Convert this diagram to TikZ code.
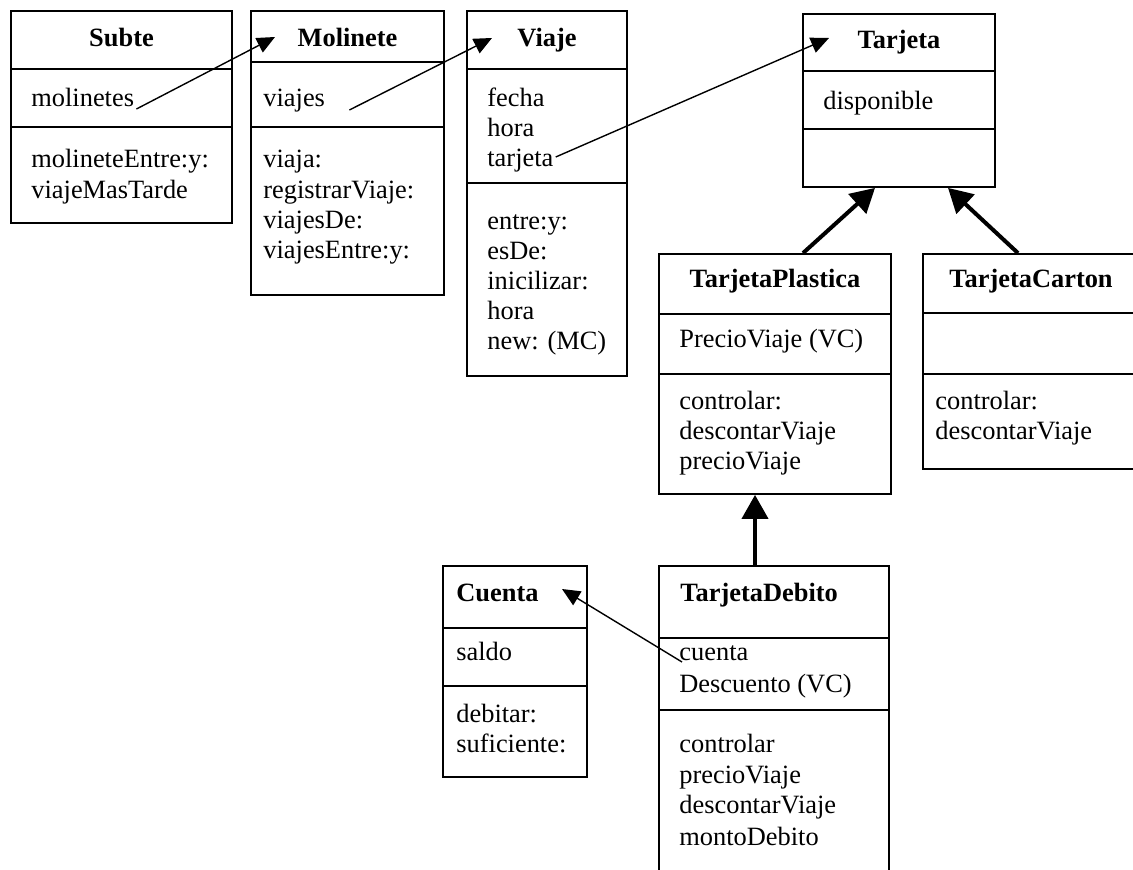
\documentclass[tikz,border=0pt]{standalone}
\usepackage{fontspec}
\setmainfont{Liberation Serif}
\usetikzlibrary{arrows.meta,fit}
\begin{document}
\begin{tikzpicture}[x=0.5pt,y=-0.5pt,
  box/.style={draw, line width=0.9pt, inner sep=0pt},
  sep/.style={line width=0.9pt},
  txt/.style={anchor=base west, inner sep=0pt, font=\fontsize{13.2}{15}\selectfont},
  hdr/.style={anchor=base, inner sep=0pt, font=\fontsize{13.2}{15}\selectfont\bfseries},
  hdrl/.style={hdr, anchor=base west},
  assoc/.style={line width=0.7pt, -{Triangle[length=9pt,width=8pt]}},
  inherit/.style={line width=2pt, -{Triangle[length=12pt,width=13pt]}}]
\useasboundingbox (0,0) rectangle (1133,870);
\clip (0,0) rectangle (1133,870);

% Subte
\node[box, fit={(11,11) (232,223)}] (subte) {};
\draw[sep] (11,69) -- (232,69) (11,127) -- (232,127);
\node[hdr] (subteH) at (121.5,47) {Subte};
\node[txt] (molinetes) at (31,107) {molinetes};
\node[txt] (subteM1) at (31,168) {molineteEntre:y:};
\node[txt] (subteM2) at (31,199) {viajeMasTarde};

% Molinete
\node[box, fit={(251,11) (444,295)}] (molinete) {};
\draw[sep] (251,62) -- (444,62) (251,127) -- (444,127);
\node[hdr] (molineteH) at (347.5,47) {Molinete};
\node[txt] (viajes) at (263,107) {viajes};
\node[txt] (molM1) at (263,168) {viaja:};
\node[txt] (molM2) at (263,199) {registrarViaje:};
\node[txt] (molM3) at (263,229) {viajesDe:};
\node[txt] (molM4) at (263,259) {viajesEntre:y:};

% Viaje
\node[box, fit={(467,11) (627,376)}] (viaje) {};
\draw[sep] (467,69) -- (627,69) (467,183) -- (627,183);
\node[hdr] (viajeH) at (547,47) {Viaje};
\node[txt] (fecha) at (487,107) {fecha};
\node[txt] (hora) at (487,137) {hora};
\node[txt] (tarjetaAttr) at (487,167) {tarjeta};
\node[txt] (viaM1) at (487,230) {entre:y:};
\node[txt] (viaM2) at (487,260) {esDe:};
\node[txt] (viaM3) at (487,290) {inicilizar:};
\node[txt] (viaM4) at (487,320) {hora};
\node[txt] (viaM5) at (487,350) {new: (MC)};

% Tarjeta
\node[box, fit={(803,14) (995,187)}] (tarjeta) {};
\draw[sep] (803,71) -- (995,71) (803,129) -- (995,129);
\node[hdr] (tarjetaH) at (899,49) {Tarjeta};
\node[txt] (disponible) at (823,110) {disponible};

% TarjetaPlastica
\node[box, fit={(659,254) (891,494)}] (tplast) {};
\draw[sep] (659,314) -- (891,314) (659,374) -- (891,374);
\node[hdr] (tplastH) at (775,288) {TarjetaPlastica};
\node[txt] (tpA1) at (679,348) {PrecioViaje (VC)};
\node[txt] (tpM1) at (679,410) {controlar:};
\node[txt] (tpM2) at (679,440) {descontarViaje};
\node[txt] (tpM3) at (679,470) {precioViaje};

% TarjetaCarton
\node[box, fit={(923,254) (1139,469)}] (tcarton) {};
\draw[sep] (923,313) -- (1139,313) (923,374) -- (1139,374);
\node[hdr] (tcartonH) at (1031,288) {TarjetaCarton};
\node[txt] (tcM1) at (935,410) {controlar:};
\node[txt] (tcM2) at (935,440) {descontarViaje};

% TarjetaDebito
\node[box, fit={(659,566) (889,900)}] (tdeb) {};
\draw[sep] (659,638) -- (889,638) (659,710) -- (889,710);
\node[hdrl] (tdebH) at (680,601) {TarjetaDebito};
\node[txt] (cuentaAttr) at (679,660) {cuenta};
\node[txt] (tdA2) at (679,692) {Descuento (VC)};
\node[txt] (tdM1) at (679,752) {controlar};
\node[txt] (tdM2) at (679,783) {precioViaje};
\node[txt] (tdM3) at (679,813) {descontarViaje};
\node[txt] (tdM4) at (679,845) {montoDebito};

% Cuenta
\node[box, fit={(443,566) (587,777)}] (cuenta) {};
\draw[sep] (443,628) -- (587,628) (443,686) -- (587,686);
\node[hdrl] (cuentaH) at (456,601) {Cuenta};
\node[txt] (saldo) at (456,660) {saldo};
\node[txt] (cuM1) at (456,722) {debitar:};
\node[txt] (cuM2) at (456,752) {suficiente:};

% association arrow tips
\coordinate (molTip) at (275,37);
\coordinate (viaTip) at (492,38);
\coordinate (tarTip) at (829,38);
\coordinate (cueTip) at (562,589);

\draw[assoc] ([shift={(1pt,-1pt)}]molinetes.base east) -- (molTip);
\draw[assoc] ([shift={(12pt,-1.5pt)}]viajes.base east) -- (viaTip);
\draw[assoc] ([shift={(1pt,5pt)}]tarjetaAttr.base east) -- (tarTip);
\draw[assoc] ([shift={(1.5pt,-1pt)}]cuentaAttr.base west) -- (cueTip);

% inheritance
\draw[inherit] ([xshift=14pt]tplast.north) -- ([xshift=-12pt]tarjeta.south);
\draw[inherit] ([xshift=-6.5pt]tcarton.north) -- ([xshift=24.5pt]tarjeta.south);
\draw[inherit] ([xshift=-9.5pt]tdeb.north) -- ([xshift=-9.5pt]tdeb.north |- tplast.south);
\end{tikzpicture}
\end{document}
